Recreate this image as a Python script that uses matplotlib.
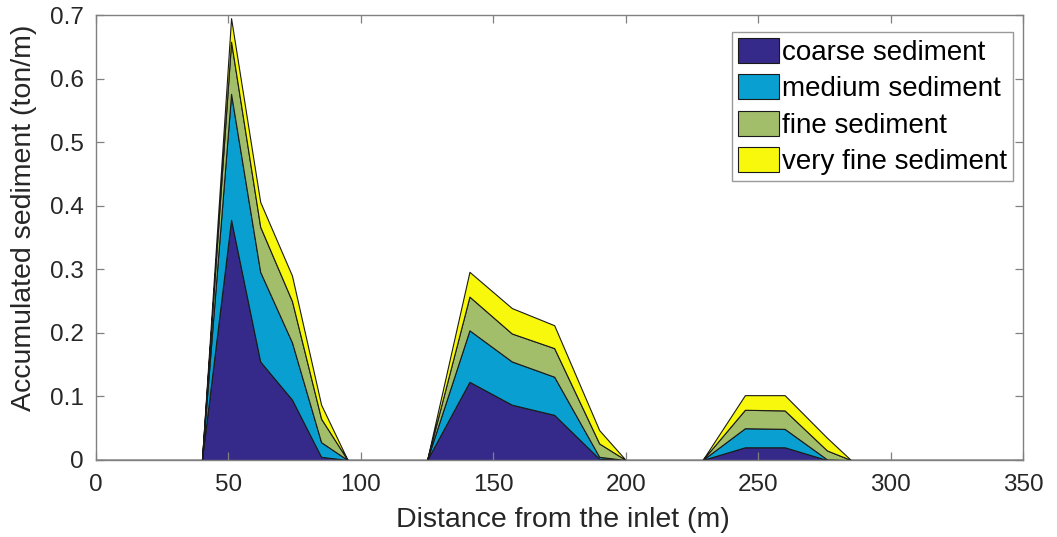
import matplotlib
matplotlib.use("Agg")
import matplotlib.pyplot as plt
import numpy as np

plt.rcParams['font.family'] = ['Liberation Sans', 'DejaVu Sans']

# Distance from inlet (m)
distance = [0, 40, 51, 62, 74, 85, 95, 125, 141, 157, 173, 190, 200,
            229, 245, 260, 276, 285, 350]
# Per-class sediment (ton/m), stacked
coarse    = [0, 0, 0.378, 0.155, 0.095, 0.005, 0, 0, 0.123, 0.087, 0.071, 0.002, 0,
             0, 0.020, 0.020, 0.000, 0, 0]
medium    = [0, 0, 0.198, 0.141, 0.090, 0.023, 0, 0, 0.081, 0.068, 0.060, 0.003, 0,
             0, 0.030, 0.029, 0.001, 0, 0]
fine      = [0, 0, 0.082, 0.071, 0.065, 0.037, 0, 0, 0.053, 0.044, 0.045, 0.021, 0,
             0, 0.029, 0.029, 0.014, 0, 0]
very_fine = [0, 0, 0.037, 0.039, 0.040, 0.022, 0, 0, 0.039, 0.040, 0.036, 0.021, 0,
             0, 0.023, 0.024, 0.020, 0, 0]

labels = ['coarse sediment', 'medium sediment', 'fine sediment', 'very fine sediment']
colors = ['#352A8A', '#099FD0', '#A3BE6B', '#F8F80C']

x_ticks = [0, 50, 100, 150, 200, 250, 300, 350]
y_ticks = [0, 0.1, 0.2, 0.3, 0.4, 0.5, 0.6, 0.7]

fig = plt.figure(figsize=(10.57, 5.37), dpi=100)
ax = fig.add_axes([96/1057, 77/537, 927/1057, 445/537])

ax.stackplot(distance, coarse, medium, fine, very_fine, labels=labels,
             colors=colors, edgecolor='#1a1a1a', linewidth=0.8)

ax.set_xlim(0, 350)
ax.set_ylim(0, 0.7)
ax.set_xticks(x_ticks)
ax.set_yticks(y_ticks)
ax.set_yticklabels(['0', '0.1', '0.2', '0.3', '0.4', '0.5', '0.6', '0.7'])

axcol = '#808080'
for s in ax.spines.values():
    s.set_color(axcol)
    s.set_linewidth(1.0)
ax.tick_params(direction='in', top=True, right=True, length=6, width=0.9,
               color=axcol, labelsize=17.5, labelcolor='#262626')
ax.tick_params(axis='x', pad=10)
ax.tick_params(axis='y', pad=9)

ax.set_xlabel('Distance from the inlet (m)', fontsize=20.5, color='#262626')
ax.set_ylabel('Accumulated sediment (ton/m)', fontsize=20.5, color='#262626')
ax.xaxis.set_label_coords(0.504, -0.165)
ax.xaxis.label.set_va('bottom')
ax.yaxis.set_label_coords(-0.064, 0.544)

leg = ax.legend(loc='upper right', fontsize=20, frameon=True, fancybox=False,
                handlelength=1.45, handleheight=1.0, handletextpad=0.12,
                labelspacing=0.3, borderpad=0.22, borderaxespad=0.0)
leg.get_frame().set_edgecolor(axcol)
leg.get_frame().set_linewidth(1.0)
leg.set_bbox_to_anchor((1013/1057, (537-32)/537), transform=fig.transFigure)

fig.savefig('out.png', dpi=100)
